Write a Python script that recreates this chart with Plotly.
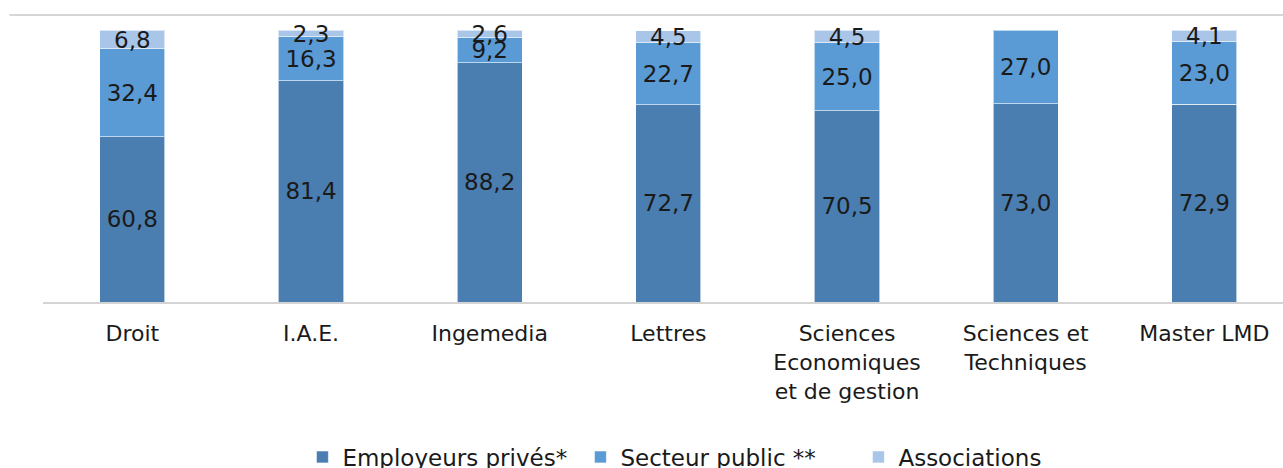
import plotly.graph_objects as go

categories = ["Droit", "I.A.E.", "Ingemedia", "Lettres",
              "Sciences<br>Economiques<br>et de gestion", "Sciences et<br>Techniques", "Master LMD"]
prives = [60.8, 81.4, 88.2, 72.7, 70.5, 73.0, 72.9]
public = [32.4, 16.3, 9.2, 22.7, 25.0, 27.0, 23.0]
assoc = [6.8, 2.3, 2.6, 4.5, 4.5, None, 4.1]

series = [
    ("Employeurs privés*", prives, "#4A7EB0"),
    ("Secteur public **", public, "#5A9BD6"),
    ("Associations", assoc, "#A9C5E8"),
]

fig = go.Figure()
for name, vals, color in series:
    fig.add_trace(go.Bar(
        name=name, x=categories, y=vals,
        marker=dict(color=color, line=dict(color="rgba(255,255,255,0.6)", width=1)),
        width=0.365,
        texttemplate="%{y:.1f}",
        textposition="inside",
        insidetextanchor="middle",
        textfont=dict(family="DejaVu Sans", size=23, color="#1a1a1a"),
        constraintext="none",
    ))

fig.update_layout(
    barmode="stack",
    width=1283, height=468,
    margin=dict(l=43, r=0, t=15, b=166, autoexpand=False),
    paper_bgcolor="white", plot_bgcolor="white",
    separators=", ",
    uniformtext=dict(mode="show", minsize=23),
    showlegend=True,
    legend=dict(orientation="h", x=0.5455, xanchor="center", y=-0.54, yanchor="middle",
                font=dict(family="DejaVu Sans", size=23, color="#1a1a1a"),
                traceorder="normal", itemwidth=30, entrywidth=233, entrywidthmode="pixels"),
    font=dict(family="DejaVu Sans", color="#1a1a1a"),
)
fig.update_xaxes(range=[-0.5, 6.44], showline=True, linecolor="#d4d4d4", linewidth=2,
                 ticks="outside", ticklen=11, tickcolor="rgba(0,0,0,0)", automargin=False,
                 tickfont=dict(family="DejaVu Sans", size=22, color="#1a1a1a"),
                 showgrid=False, zeroline=False)
fig.update_yaxes(range=[0, 105.7], visible=False, showgrid=False, zeroline=False, automargin=False)

fig.add_shape(type="line", xref="paper", yref="paper", x0=-0.027, x1=1, y0=1, y1=1,
              line=dict(color="#c8c8c8", width=1.5))

fig.write_html("out.html", config={"displayModeBar": False},
               post_script="document.body.style.margin='0px';document.body.style.overflow='hidden';")
